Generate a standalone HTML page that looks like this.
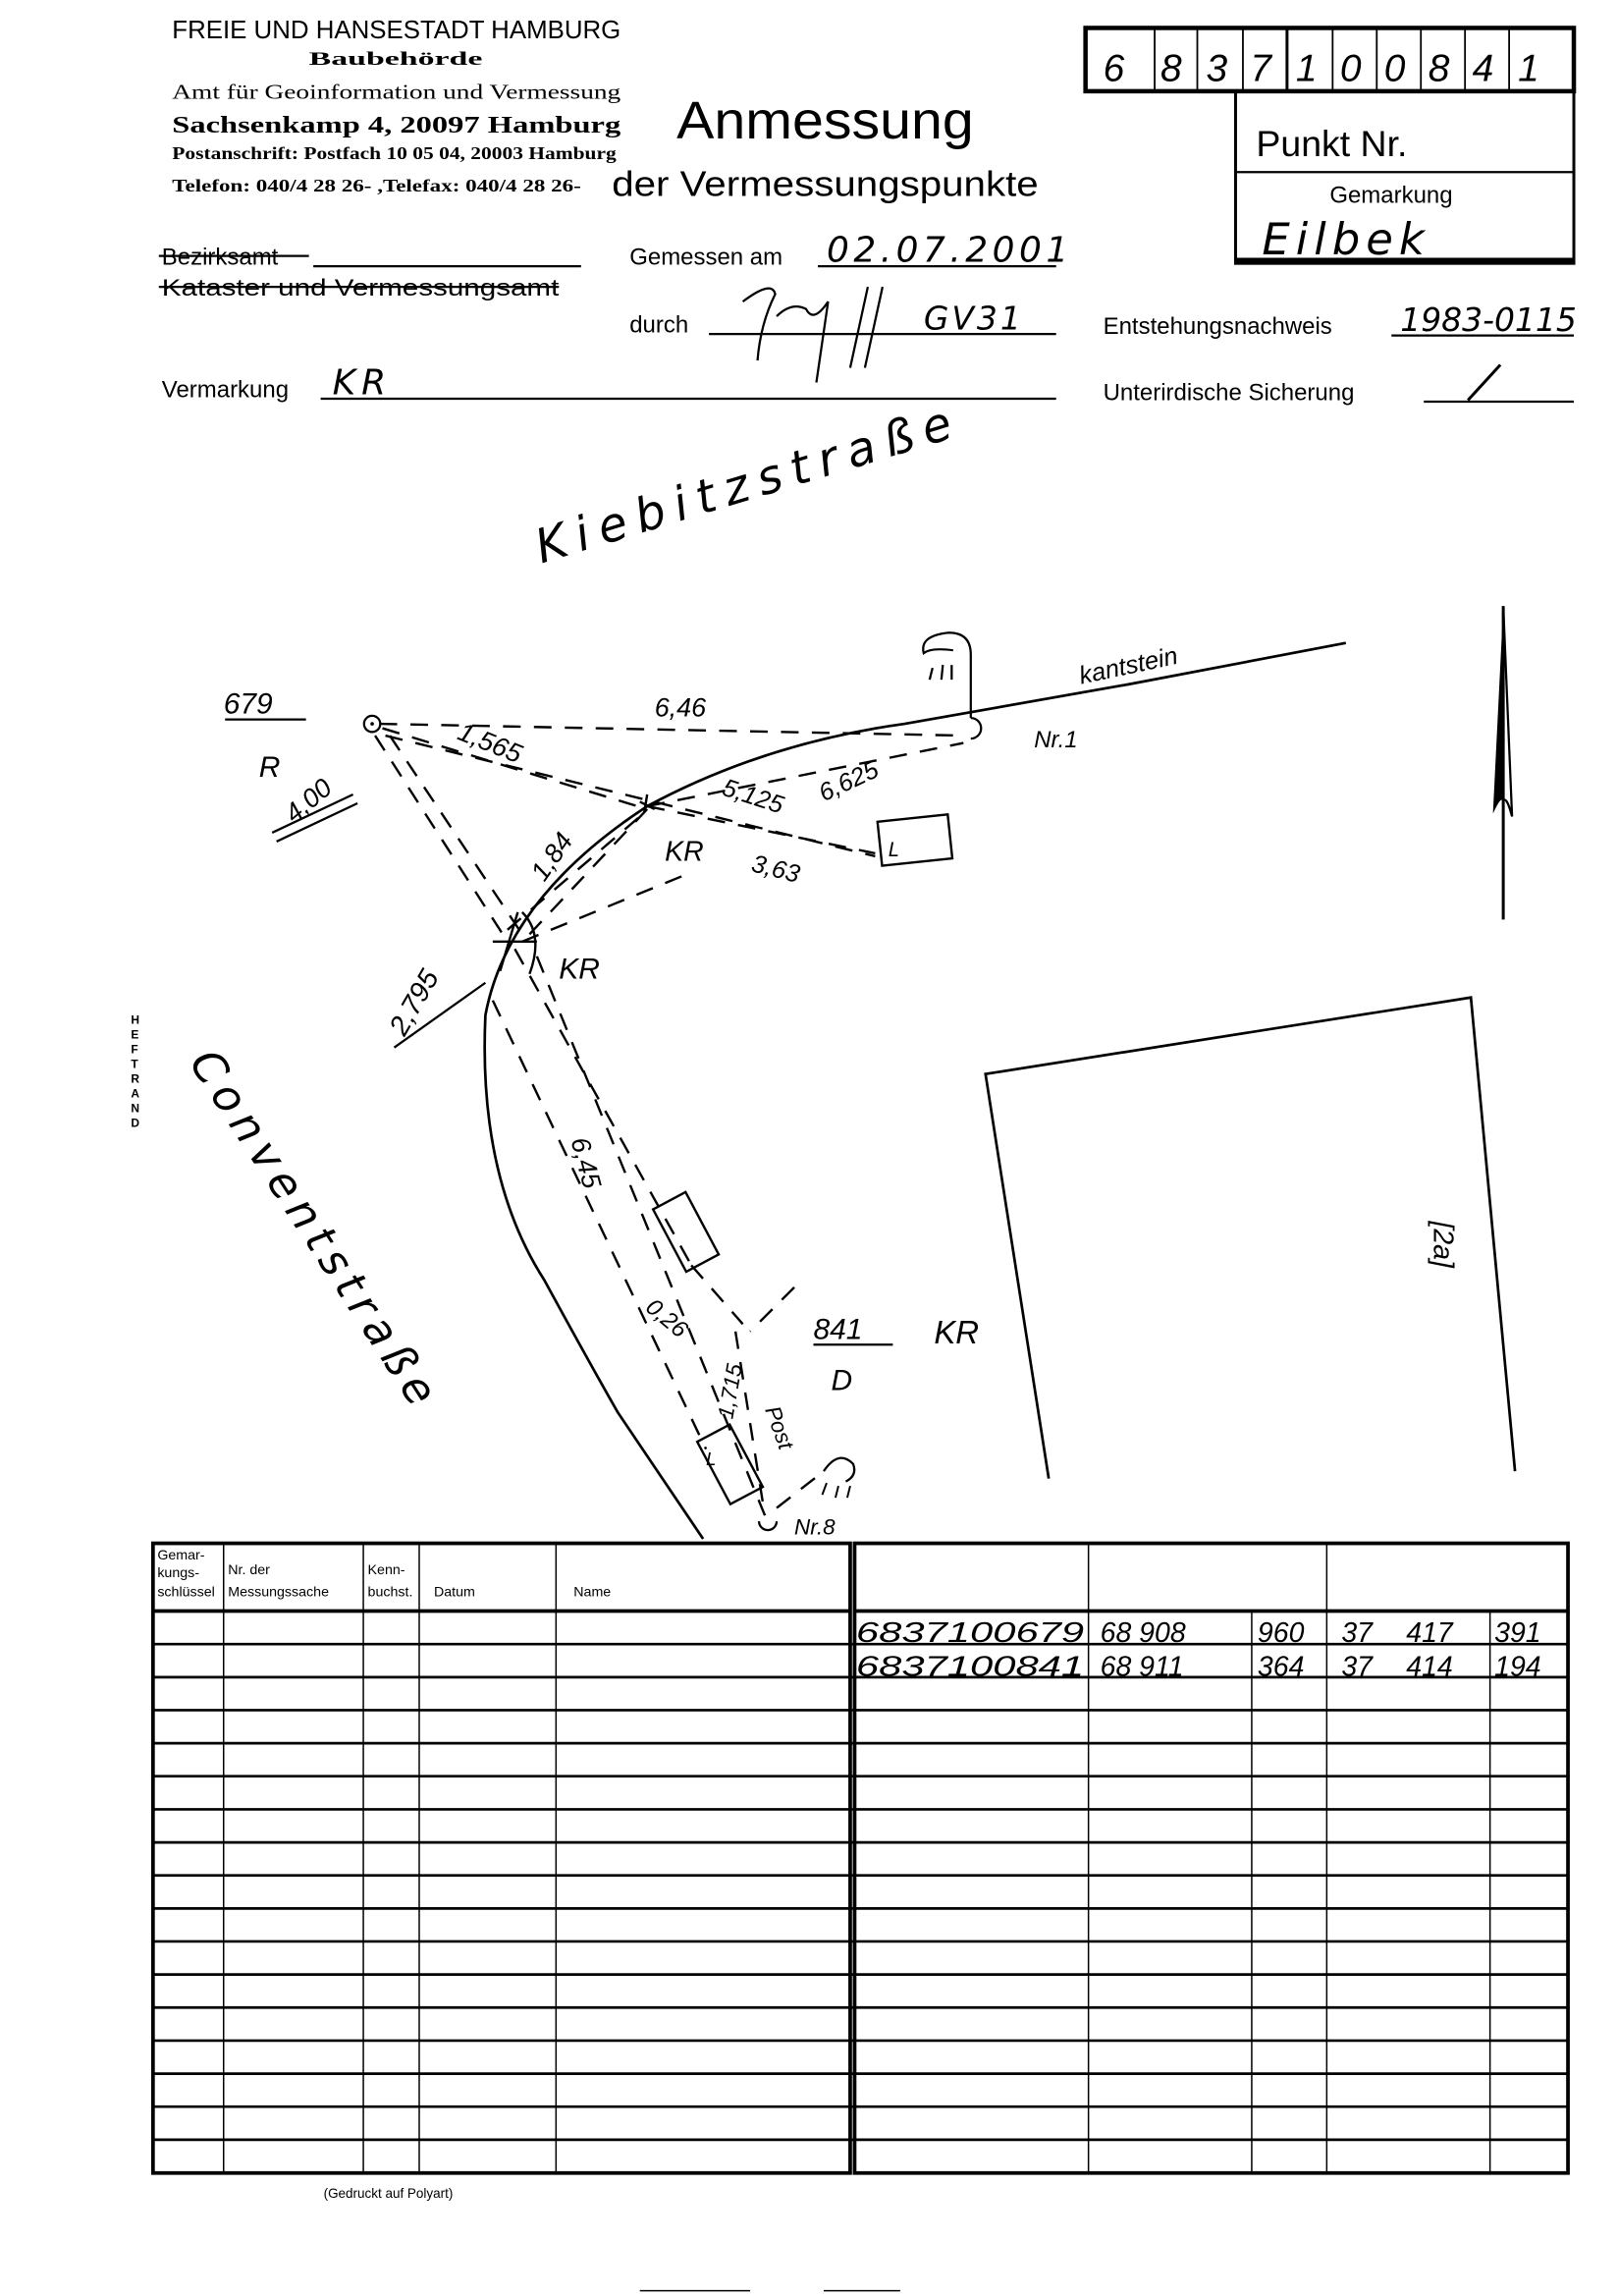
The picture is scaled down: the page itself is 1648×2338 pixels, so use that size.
<!DOCTYPE html>
<html><head><meta charset="utf-8">
<style>
html,body{margin:0;padding:0;background:#fff;}
svg{display:block;}
text{font-family:"Liberation Sans",sans-serif;fill:#000;}
.hw{font-family:"DejaVu Sans","Liberation Sans",sans-serif;font-style:italic;}
.cond{font-family:"Liberation Sans Narrow","Liberation Sans",sans-serif;}
.ser{font-family:"Liberation Serif",serif;font-weight:bold;}
</style></head>
<body>
<svg width="1648" height="2338" viewBox="0 0 1100 1560.6" xmlns="http://www.w3.org/2000/svg">
<rect width="1100" height="1561" fill="#fff"/>
<text x="117" y="26" font-size="17" class="cond" textLength="305" lengthAdjust="spacingAndGlyphs">FREIE UND HANSESTADT HAMBURG</text>
<text x="210" y="44" font-size="13" class="ser" textLength="118" lengthAdjust="spacingAndGlyphs">Baubehörde</text>
<text x="117" y="67" font-size="14" textLength="305" lengthAdjust="spacingAndGlyphs" style="font-family:'Liberation Serif',serif">Amt für Geoinformation und Vermessung</text>
<text x="117" y="90" font-size="16" class="ser" textLength="305" lengthAdjust="spacingAndGlyphs">Sachsenkamp 4, 20097 Hamburg</text>
<text x="117" y="108" font-size="12" class="ser" textLength="302" lengthAdjust="spacingAndGlyphs">Postanschrift: Postfach 10 05 04, 20003 Hamburg</text>
<text x="117" y="130" font-size="12" class="ser" textLength="278" lengthAdjust="spacingAndGlyphs">Telefon: 040/4 28 26-      ,Telefax: 040/4 28 26-</text>
<text x="460" y="94" font-size="36" textLength="202" lengthAdjust="spacingAndGlyphs">Anmessung</text>
<text x="416" y="133" font-size="24" textLength="290" lengthAdjust="spacingAndGlyphs">der Vermessungspunkte</text>
<rect x="738" y="19" width="332" height="43" fill="none" stroke="#000" stroke-width="3"/>
<g stroke="#000" stroke-width="1.2">
<line x1="785" y1="19" x2="785" y2="62"/><line x1="814" y1="19" x2="814" y2="62"/><line x1="845" y1="19" x2="845" y2="62"/>
<line x1="875" y1="19" x2="875" y2="62" stroke-width="2"/><line x1="906" y1="19" x2="906" y2="62"/><line x1="936" y1="19" x2="936" y2="62"/>
<line x1="966" y1="19" x2="966" y2="62"/><line x1="996" y1="19" x2="996" y2="62"/><line x1="1026" y1="19" x2="1026" y2="62"/>
</g>
<g class="hw" font-size="26">
<text x="750" y="55">6</text><text x="789" y="55">8</text><text x="820" y="55">3</text><text x="850" y="55">7</text><text x="881" y="55">1</text><text x="911" y="55">0</text><text x="941" y="55">0</text><text x="971" y="55">8</text><text x="1001" y="55">4</text><text x="1032" y="55">1</text>
</g>
<rect x="840" y="62" width="230" height="117" fill="none" stroke="#000" stroke-width="2"/>
<line x1="840" y1="177" x2="1070" y2="177" stroke="#000" stroke-width="3.5"/>
<line x1="840" y1="117" x2="1070" y2="117" stroke="#000" stroke-width="1.5"/>
<text x="854" y="106" font-size="25">Punkt Nr.</text>
<text x="904" y="138" font-size="16">Gemarkung</text>
<text x="858" y="173" font-size="30" class="hw" letter-spacing="4">Eilbek</text>
<text x="110" y="180" font-size="16">Bezirksamt</text>
<line x1="108" y1="174" x2="210" y2="174" stroke="#000" stroke-width="1.5"/>
<line x1="213" y1="181" x2="395" y2="181" stroke="#000" stroke-width="1.5"/>
<text x="110" y="201" font-size="16" textLength="270" lengthAdjust="spacingAndGlyphs">Kataster und Vermessungsamt</text>
<line x1="108" y1="195" x2="380" y2="195" stroke="#000" stroke-width="1.5"/>
<text x="428" y="180" font-size="16">Gemessen am</text>
<line x1="556" y1="181" x2="718" y2="181" stroke="#000" stroke-width="1.5"/>
<text x="562" y="178" font-size="24" class="hw" letter-spacing="3">02.07.2001</text>
<text x="428" y="226" font-size="16">durch</text>
<line x1="482" y1="227" x2="718" y2="227" stroke="#000" stroke-width="1.5"/>
<path d="M505 205 q20 -15 22 -5 q-10 20 -12 45 M528 215 q10-10 20-5 q5 10 15 -5 l-8 55 M590 195 l-12 55 M600 195 l-12 55" fill="none" stroke="#000" stroke-width="1.5"/>
<text x="628" y="224" font-size="22" class="hw" letter-spacing="2">GV31</text>
<text x="750" y="227" font-size="16">Entstehungsnachweis</text>
<line x1="946" y1="228" x2="1070" y2="228" stroke="#000" stroke-width="1.5"/>
<text x="952" y="225" font-size="22" class="hw">1983-0115</text>
<text x="110" y="270" font-size="16">Vermarkung</text>
<line x1="218" y1="271" x2="718" y2="271" stroke="#000" stroke-width="1.5"/>
<text x="226" y="268" font-size="24" class="hw" letter-spacing="4">KR</text>
<text x="750" y="272" font-size="16">Unterirdische Sicherung</text>
<line x1="968" y1="273" x2="1070" y2="273" stroke="#000" stroke-width="1.5"/>
<line x1="998" y1="272" x2="1020" y2="248" stroke="#000" stroke-width="2"/>
<text x="0" y="0" font-size="32" class="hw" letter-spacing="7" transform="translate(368,383) rotate(-17)">Kiebitzstraße</text>
<text x="0" y="0" font-size="30" class="hw" letter-spacing="5" transform="translate(128,722) rotate(57)">Conventstraße</text>
<g font-size="8" font-weight="bold"><text x="89" y="696">H</text><text x="89" y="706">E</text><text x="89" y="716">F</text><text x="89" y="726">T</text><text x="89" y="736">R</text><text x="89" y="746">A</text><text x="89" y="756">N</text><text x="89" y="766">D</text></g>
<g fill="none" stroke="#000" stroke-width="1.8">
<path d="M915 437 L768 465 L615 492 Q520 505 440 548 Q345 610 330 690 Q325 800 370 870 Q400 925 420 960 L478 1046"/>
<path d="M713 1005 L670 730 L1000 678 L1030 1000"/>
<line x1="1022" y1="412" x2="1022" y2="625" stroke-width="2"/>
</g>
<path d="M1022 412 L1015 553 Q1021 540 1022 545 Z" fill="#000"/>
<path d="M1022 412 L1028 555 Q1024 540 1022 545" fill="none" stroke="#000" stroke-width="1.5"/>
<g fill="none" stroke="#000" stroke-width="1.6" stroke-dasharray="12,9">
<line x1="258" y1="492" x2="655" y2="500"/>
<line x1="260" y1="495" x2="440" y2="550"/>
<line x1="262" y1="500" x2="595" y2="582"/>
<line x1="440" y1="548" x2="595" y2="580"/>
<line x1="440" y1="548" x2="655" y2="505"/>
<line x1="255" y1="500" x2="345" y2="640"/>
<line x1="265" y1="500" x2="355" y2="635"/>
<line x1="360" y1="635" x2="440" y2="550"/>
<line x1="345" y1="632" x2="435" y2="555"/>
<line x1="355" y1="640" x2="465" y2="595"/>
<line x1="350" y1="645" x2="470" y2="860"/>
<line x1="335" y1="680" x2="480" y2="985"/>
<line x1="365" y1="650" x2="520" y2="1030"/>
<line x1="470" y1="860" x2="505" y2="900"/>
<line x1="500" y1="905" x2="520" y2="1030"/>
<line x1="540" y1="875" x2="510" y2="905"/>
<line x1="528" y1="1025" x2="560" y2="1000"/>
</g>
<circle cx="253" cy="492" r="5.5" fill="none" stroke="#000" stroke-width="1.5"/><circle cx="253" cy="492" r="1.2"/>
<path d="M660 488 a7 7 0 1 1 0 14" fill="none" stroke="#000" stroke-width="1.5"/>
<path d="M660 488 L660 445 Q660 430 645 430 Q625 432 628 444 Q633 440 648 442" fill="none" stroke="#000" stroke-width="1.5"/>
<path d="M632 462 l2 -8 M640 462 l1 -10 M647 462 l0 -10" stroke="#000" stroke-width="1.5"/>
<path d="M352 620 L340 660 M335 640 l30 0 M355 620 q15 15 5 42" fill="none" stroke="#000" stroke-width="1.6"/>
<path d="M435 545 l10 5 M440 540 l-2 12" stroke="#000" stroke-width="1.6"/>
<path d="M516 1034 a6 6 0 1 0 12 0" fill="none" stroke="#000" stroke-width="1.5"/>
<path d="M560 1000 q10 -15 20 -5 q3 8 -5 12" fill="none" stroke="#000" stroke-width="1.5"/>
<path d="M562 1008 l-3 8 M570 1010 l-2 8 M578 1010 l-2 8" stroke="#000" stroke-width="1.3"/>
<rect x="598" y="556" width="48" height="30" fill="none" stroke="#000" stroke-width="1.6" transform="rotate(-6 622 571)"/>
<text x="604" y="582" font-size="13" class="hw">L</text>
<rect x="0" y="0" width="25" height="48" fill="none" stroke="#000" stroke-width="1.6" transform="translate(444,822) rotate(-28)"/>
<rect x="0" y="0" width="25" height="48" fill="none" stroke="#000" stroke-width="1.6" transform="translate(474,980) rotate(-28)"/>
<text x="480" y="996" font-size="12" class="hw">L</text>
<g class="hw" font-size="20">
<text x="152" y="485">679</text>
<text x="176" y="528">R</text>
<text x="445" y="487" font-size="18">6,46</text>
<text x="0" y="0" font-size="18" transform="translate(310,502) rotate(22)">1,565</text>
<text x="0" y="0" font-size="18" transform="translate(200,560) rotate(-40)">4,00</text>
<text x="0" y="0" font-size="17" transform="translate(490,540) rotate(18)">5,125</text>
<text x="0" y="0" font-size="17" transform="translate(560,545) rotate(-25)">6,625</text>
<text x="452" y="585" font-size="19">KR</text>
<text x="0" y="0" font-size="17" transform="translate(510,592) rotate(14)">3,63</text>
<text x="0" y="0" font-size="18" transform="translate(370,600) rotate(-55)">1,84</text>
<text x="380" y="665">KR</text>
<text x="0" y="0" font-size="19" transform="translate(275,705) rotate(-60)">2,795</text>
<text x="0" y="0" font-size="18" transform="translate(388,775) rotate(75)">6,45</text>
<text x="0" y="0" font-size="16" transform="translate(438,890) rotate(40)">0,26</text>
<text x="0" y="0" font-size="15" transform="translate(498,965) rotate(-80)">1,715</text>
<text x="0" y="0" font-size="15" transform="translate(520,958) rotate(70)">Post</text>
<text x="553" y="910">841</text>
<text x="565" y="945">D</text>
<text x="635" y="913" font-size="22">KR</text>
<text x="703" y="508" font-size="16">Nr.1</text>
<text x="540" y="1043" font-size="15">Nr.8</text>
<text x="0" y="0" font-size="17" transform="translate(735,465) rotate(-12)">kantstein</text>
<text x="0" y="0" font-size="19" transform="translate(975,830) rotate(90)">[2a]</text>
</g>
<line x1="153" y1="489" x2="208" y2="489" stroke="#000" stroke-width="1.5"/>
<line x1="553" y1="914" x2="607" y2="914" stroke="#000" stroke-width="1.5"/>
<line x1="185" y1="566" x2="240" y2="540" stroke="#000" stroke-width="1.5"/><line x1="188" y1="572" x2="243" y2="546" stroke="#000" stroke-width="1.5"/>
<line x1="268" y1="712" x2="330" y2="668" stroke="#000" stroke-width="1.5"/>
<g fill="none" stroke="#000">
<rect x="104" y="1049" width="474" height="428" stroke-width="2.5"/>
<rect x="581" y="1049" width="485" height="428" stroke-width="2.5"/>
<line x1="104" y1="1095" x2="578" y2="1095" stroke-width="2.5"/>
<line x1="581" y1="1095" x2="1066" y2="1095" stroke-width="2.5"/>
<g stroke-width="1">
<line x1="152" y1="1049" x2="152" y2="1477"/><line x1="247" y1="1049" x2="247" y2="1477"/><line x1="285" y1="1049" x2="285" y2="1477"/><line x1="378" y1="1049" x2="378" y2="1477"/>
<line x1="740" y1="1049" x2="740" y2="1477"/><line x1="902" y1="1049" x2="902" y2="1477"/>
<line x1="851" y1="1095" x2="851" y2="1477"/><line x1="1013" y1="1095" x2="1013" y2="1477"/>
</g>
<g stroke-width="1.8">
<line x1="104" y1="1117.5" x2="1066" y2="1117.5"/><line x1="104" y1="1140" x2="1066" y2="1140"/><line x1="104" y1="1162.4" x2="1066" y2="1162.4"/>
<line x1="104" y1="1184.9" x2="1066" y2="1184.9"/><line x1="104" y1="1207.3" x2="1066" y2="1207.3"/><line x1="104" y1="1229.8" x2="1066" y2="1229.8"/>
<line x1="104" y1="1252.3" x2="1066" y2="1252.3"/><line x1="104" y1="1274.7" x2="1066" y2="1274.7"/><line x1="104" y1="1297.2" x2="1066" y2="1297.2"/>
<line x1="104" y1="1319.6" x2="1066" y2="1319.6"/><line x1="104" y1="1342.1" x2="1066" y2="1342.1"/><line x1="104" y1="1364.5" x2="1066" y2="1364.5"/>
<line x1="104" y1="1387" x2="1066" y2="1387"/><line x1="104" y1="1409.5" x2="1066" y2="1409.5"/><line x1="104" y1="1431.9" x2="1066" y2="1431.9"/>
<line x1="104" y1="1454.4" x2="1066" y2="1454.4"/>
</g>
</g>
<g class="cond" font-size="9.5">
<text x="107" y="1060">Gemar-</text><text x="107" y="1072">kungs-</text><text x="107" y="1085">schlüssel</text>
<text x="155" y="1070">Nr. der</text><text x="155" y="1085">Messungssache</text>
<text x="250" y="1070">Kenn-</text><text x="250" y="1085">buchst.</text>
<text x="295" y="1085">Datum</text>
<text x="390" y="1085">Name</text>
</g>
<g class="hw" font-size="19">
<text x="582" y="1116" textLength="155" lengthAdjust="spacingAndGlyphs">6837100679</text>
<text x="748" y="1116">68 908</text><text x="855" y="1116">960</text>
<text x="912" y="1116">37</text><text x="956" y="1116">417</text><text x="1016" y="1116">391</text>
<text x="582" y="1139" textLength="155" lengthAdjust="spacingAndGlyphs">6837100841</text>
<text x="748" y="1139">68 911</text><text x="855" y="1139">364</text>
<text x="912" y="1139">37</text><text x="956" y="1139">414</text><text x="1016" y="1139">194</text>
</g>
<text x="220" y="1494" font-size="9" class="cond">(Gedruckt auf Polyart)</text>
<line x1="435" y1="1557" x2="510" y2="1557" stroke="#000" stroke-width="1"/>
<line x1="560" y1="1557" x2="612" y2="1557" stroke="#000" stroke-width="1"/>
</svg>
</body></html>
